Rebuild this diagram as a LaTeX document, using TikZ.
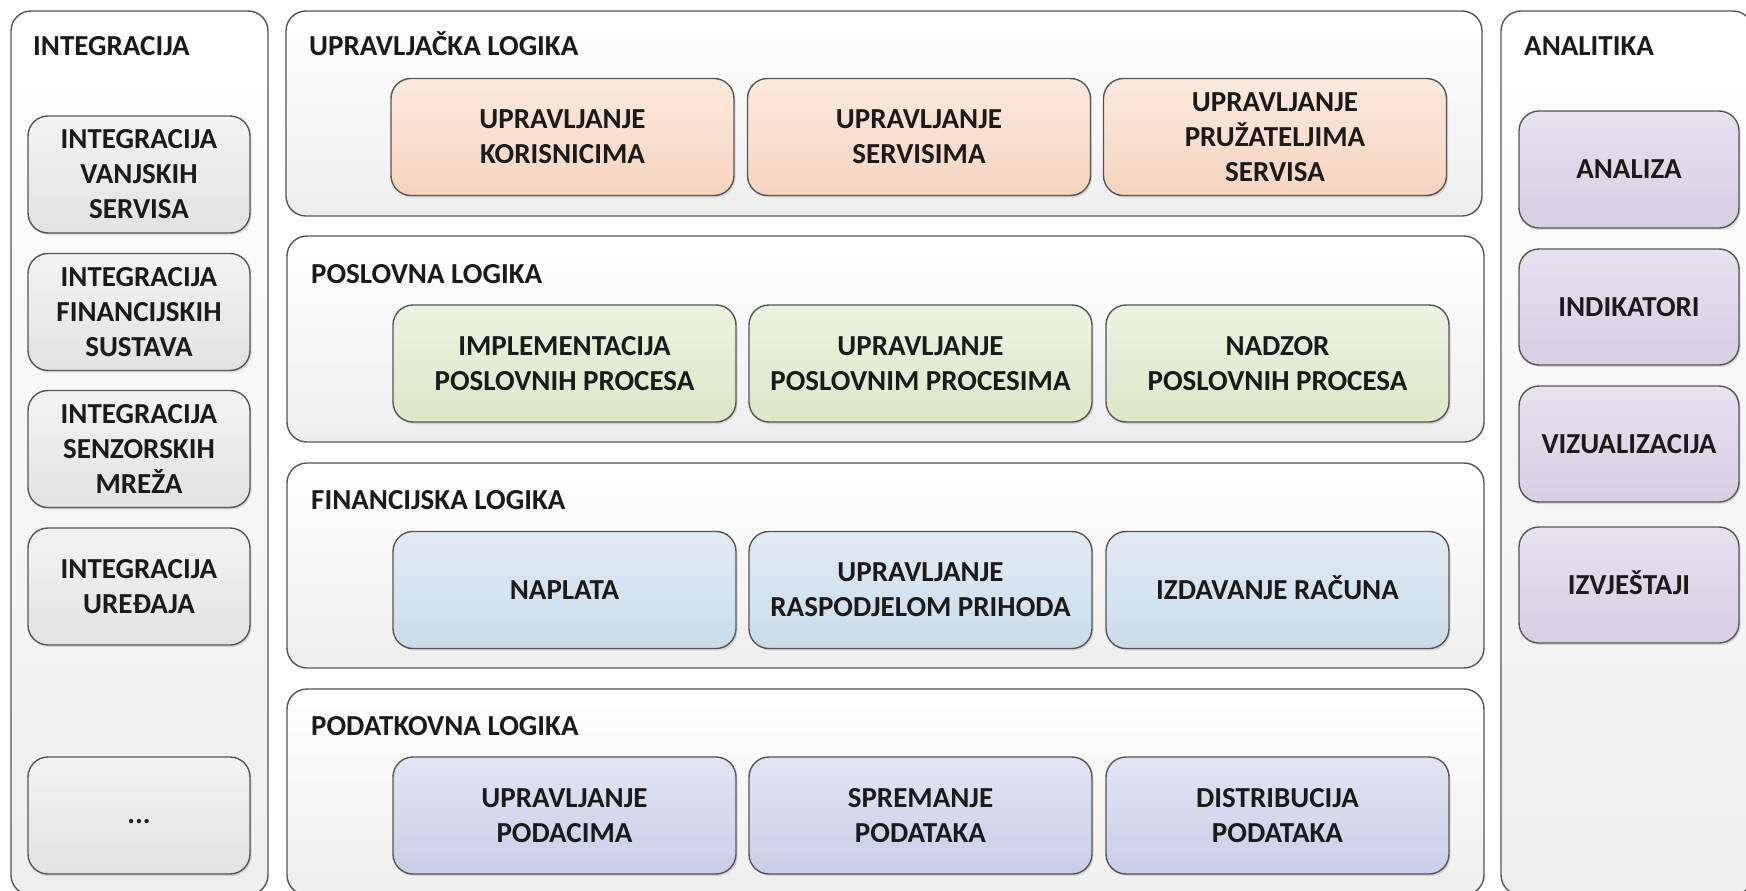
\documentclass[tikz,border=0pt]{standalone}
\usepackage{fontspec}
\setmainfont{Carlito}
\usetikzlibrary{shadows}
\definecolor{edge}{HTML}{555555}
\definecolor{txt}{HTML}{1A1A1A}
\definecolor{panelB}{HTML}{EEEEEE}
\definecolor{grayT}{HTML}{F3F3F3}\definecolor{grayB}{HTML}{E2E2E2}
\definecolor{orT}{HTML}{FBE9DE}\definecolor{orB}{HTML}{F6D4BE}
\definecolor{grT}{HTML}{EDF2E1}\definecolor{grB}{HTML}{DCE6C8}
\definecolor{blT}{HTML}{E2EBF4}\definecolor{blB}{HTML}{C9DCEA}
\definecolor{inT}{HTML}{E1E5F2}\definecolor{inB}{HTML}{C8CEE8}
\definecolor{puT}{HTML}{E6E2EF}\definecolor{puB}{HTML}{D6CEE2}
\tikzset{
  panel/.style={draw=edge, line width=1.4pt, rounded corners=20pt, top color=white, bottom color=panelB, inner sep=0pt},
  cell/.style={draw=edge, line width=1.4pt, rounded corners=20pt, inner sep=0pt, align=center, text=txt,
    font=\fontsize{29}{35}\selectfont\bfseries,
    drop shadow={shadow xshift=1.5pt, shadow yshift=-2pt, opacity=0.25}},
  midcell/.style={cell, minimum width=343pt, minimum height=117pt},
  sidecell/.style={cell, minimum width=222pt, minimum height=117pt},
  gray/.style={top color=grayT, bottom color=grayB},
  orng/.style={top color=orT, bottom color=orB},
  grn/.style={top color=grT, bottom color=grB},
  blu/.style={top color=blT, bottom color=blB},
  ind/.style={top color=inT, bottom color=inB},
  pur/.style={top color=puT, bottom color=puB},
  ttl/.style={anchor=base west, inner sep=0pt, text=txt, font=\fontsize{29}{35}\selectfont\bfseries},
}
\begin{document}
\begin{tikzpicture}[x=1pt,y=-1pt]
\useasboundingbox[fill=white] (0,0) rectangle (1746,891);
% panels
\node[panel, minimum width=257pt, minimum height=884pt] (intP) at (139.5,453) {};
\node[panel, minimum width=1196pt, minimum height=205pt] (upr) at (884,113.5) {};
\node[panel, minimum width=1197pt, minimum height=206pt] (pos) at (885.5,339) {};
\node[panel, minimum width=1197pt, minimum height=205pt] (fin) at (885.5,565.5) {};
\node[panel, minimum width=1197pt, minimum height=206pt] (pod) at (885.5,792) {};
\node[panel, minimum width=252pt, minimum height=884pt] (ana) at (1627,453) {};
% titles
\node[ttl] (tInt) at (33,56) {INTEGRACIJA};
\node[ttl] (tUpr) at (309,56) {UPRAVLJAČKA LOGIKA};
\node[ttl] (tPos) at (311,283) {POSLOVNA LOGIKA};
\node[ttl] (tFin) at (311,509) {FINANCIJSKA LOGIKA};
\node[ttl] (tPod) at (311,735) {PODATKOVNA LOGIKA};
\node[ttl] (tAna) at (1524,56) {ANALITIKA};
% integracija
\node[sidecell, gray] (i1) at (139,174.5) {INTEGRACIJA\\VANJSKIH\\SERVISA};
\node[sidecell, gray] (i2) at (139,312) {INTEGRACIJA\\FINANCIJSKIH\\SUSTAVA};
\node[sidecell, gray] (i3) at (139,449) {INTEGRACIJA\\SENZORSKIH\\MREŽA};
\node[sidecell, gray] (i4) at (139,586.5) {INTEGRACIJA\\UREĐAJA};
\node[sidecell, gray] (i5) at (139,815.5) {\raisebox{-16pt}{...}};
% upravljacka
\node[midcell, orng] (u1) at (562.5,137) {UPRAVLJANJE\\KORISNICIMA};
\node[midcell, orng] (u2) at (919,137) {UPRAVLJANJE\\SERVISIMA};
\node[midcell, orng] (u3) at (1275,137) {UPRAVLJANJE\\PRUŽATELJIMA\\SERVISA};
% poslovna
\node[midcell, grn] (p1) at (564.5,363.5) {IMPLEMENTACIJA\\POSLOVNIH PROCESA};
\node[midcell, grn] (p2) at (920.5,363.5) {UPRAVLJANJE\\POSLOVNIM PROCESIMA};
\node[midcell, grn] (p3) at (1277.5,363.5) {NADZOR\\POSLOVNIH PROCESA};
% financijska
\node[midcell, blu] (f1) at (564.5,590) {NAPLATA};
\node[midcell, blu] (f2) at (920.5,590) {UPRAVLJANJE\\RASPODJELOM PRIHODA};
\node[midcell, blu] (f3) at (1277.5,590) {IZDAVANJE RA\smash{Č}UNA};
% podatkovna
\node[midcell, ind] (d1) at (564.5,815.5) {UPRAVLJANJE\\PODACIMA};
\node[midcell, ind] (d2) at (920.5,815.5) {SPREMANJE\\PODATAKA};
\node[midcell, ind] (d3) at (1277.5,815.5) {DISTRIBUCIJA\\PODATAKA};
% analitika
\node[cell, pur, minimum width=220pt, minimum height=117pt] (a1) at (1629,169.5) {ANALIZA};
\node[cell, pur, minimum width=220pt, minimum height=116pt] (a2) at (1629,307) {INDIKATORI};
\node[cell, pur, minimum width=220pt, minimum height=116pt] (a3) at (1629,444) {VIZUALIZACIJA};
\node[cell, pur, minimum width=220pt, minimum height=116pt] (a4) at (1629,585) {IZVJE\smash{Š}TAJI};
\end{tikzpicture}
\end{document}
